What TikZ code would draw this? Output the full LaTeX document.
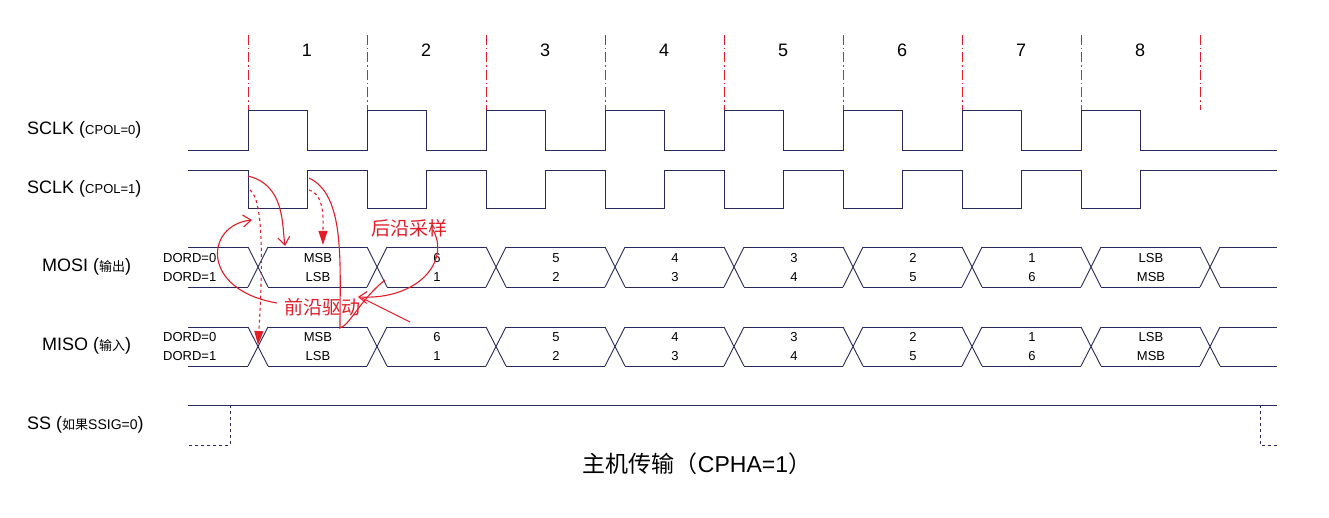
\documentclass[tikz,border=0pt]{standalone}
\usepackage{fontspec}
\setmainfont{Liberation Sans}
\newfontfamily\cjk{Noto Sans CJK SC}
\usetikzlibrary{arrows.meta}
\definecolor{ln}{RGB}{40,40,90}
\definecolor{rd}{RGB}{225,30,40}
\tikzset{sig/.style={draw=ln,line width=0.9pt},
 lab/.style={font=\fontsize{18}{20}\selectfont,anchor=west,inner sep=0},
 sm/.style={font=\fontsize{13}{15}\selectfont,inner sep=0},
 red/.style={draw=rd,line width=1.1pt},
 rtxt/.style={text=rd,font=\cjk\fontsize{19}{20}\selectfont,inner sep=0}}
\begin{document}
\begin{tikzpicture}[x=1pt,y=-1pt]
\useasboundingbox[fill=white] (0,0) rectangle (1329,518);
% dash-dot guides and numbers
\foreach \i in {0,...,8}{
  \draw[rd,dash pattern=on 10pt off 3pt on 1.5pt off 3pt,line width=0.8pt] (248+119*\i,35) -- (248+119*\i,110);}
\foreach \i in {1,...,8}{
  \node[font=\fontsize{18}{20}\selectfont] (n\i) at (188+119*\i,50) {\i};}
% SCLK CPOL=0
\draw[sig] (188,150) \foreach \i in {0,...,7}{ -- (248+119*\i,150) -- (248+119*\i,110) -- (307.5+119*\i,110) -- (307.5+119*\i,150)} -- (1277,150);
% SCLK CPOL=1
\draw[sig] (188,170) \foreach \i in {0,...,7}{ -- (248+119*\i,170) -- (248+119*\i,208) -- (307.5+119*\i,208) -- (307.5+119*\i,170)} -- (1277,170);
% buses
\foreach \t/\b in {247/287,327/366}{
  \draw[sig] (188,\t) -- (248,\t) (188,\b) -- (248,\b);
  \foreach \k in {0,...,8}{
    \draw[sig] (248+119*\k,\t) -- (268+119*\k,\b) (248+119*\k,\b) -- (268+119*\k,\t);}
  \foreach \k in {0,...,7}{
    \draw[sig] (268+119*\k,\t) -- (367+119*\k,\t) (268+119*\k,\b) -- (367+119*\k,\b);}
  \draw[sig] (1220,\t) -- (1277,\t) (1220,\b) -- (1277,\b);
}
\foreach \y/\nm in {258/a,337/b}{
 \foreach \u/\l [count=\k from 0] in {MSB/LSB,6/1,5/2,4/3,3/4,2/5,1/6,LSB/MSB}{
  \node[sm] (\nm u\k) at (318+119*\k,\y) {\u};
  \node[sm] (\nm l\k) at (318+119*\k,\y+19) {\l};}}
% left labels
\node[lab] (l1) at (27,130) {SCLK (\fontsize{13}{15}\selectfont CPOL=0\fontsize{18}{20}\selectfont)};
\node[lab] (l2) at (27,189) {SCLK (\fontsize{13}{15}\selectfont CPOL=1\fontsize{18}{20}\selectfont)};
\node[lab] (l3) at (42,267) {MOSI ({\cjk\fontsize{13}{15}\selectfont 输出})};
\node[lab] (l4) at (42,346) {MISO ({\cjk\fontsize{13}{15}\selectfont 输入})};
\node[lab] (l5) at (27,425) {SS ({\cjk\fontsize{13}{15}\selectfont 如果}{\fontsize{14}{15}\selectfont SSIG=0})};
\node[sm,anchor=west] (d1) at (163,258) {DORD=0};
\node[sm,anchor=west] (d2) at (163,277) {DORD=1};
\node[sm,anchor=west] (d3) at (163,337) {DORD=0};
\node[sm,anchor=west] (d4) at (163,356) {DORD=1};
% SS
\draw[sig] (188,405) -- (1277,405);
\draw[sig,dashed] (230,405) -- (230,445) -- (188,445);
\draw[sig,dashed] (1260,405) -- (1260,445) -- (1277,445);
% caption
\node[font=\fontsize{23}{25}\selectfont,inner sep=0] (cap) at (697,464) {{\cjk 主机传输（}CPHA=1{\cjk ）}};
% red annotations
\node[rtxt] (t1) at (409,228) {后沿采样};
\node[rtxt] (t2) at (322,307) {前沿驱动};
\draw[red,-{Straight Barb[length=8pt,width=12pt]}] (248,176) .. controls (285,185) and (282,225) .. (285,246);
\draw[red,dashed,-{Triangle[length=14pt,width=9pt]}] (250,190) .. controls (265,200) and (262,280) .. (258,345);
\draw[red,dashed,-{Triangle[length=14pt,width=9pt]}] (309,190) .. controls (325,195) and (323,220) .. (323,245);
\draw[red] (309,178) .. controls (345,195) and (340,260) .. (340,328) .. controls (350,325) and (360,300) .. (385,280);
\draw[red,-{Straight Barb[length=8pt,width=12pt]}] (433,230) .. controls (450,260) and (420,300) .. (358,297);
\draw[red] (362,298) -- (410,322);
\draw[red,-{Straight Barb[length=8pt,width=12pt]}] (277,303) .. controls (200,290) and (205,225) .. (252,220);
\end{tikzpicture}
\end{document}
